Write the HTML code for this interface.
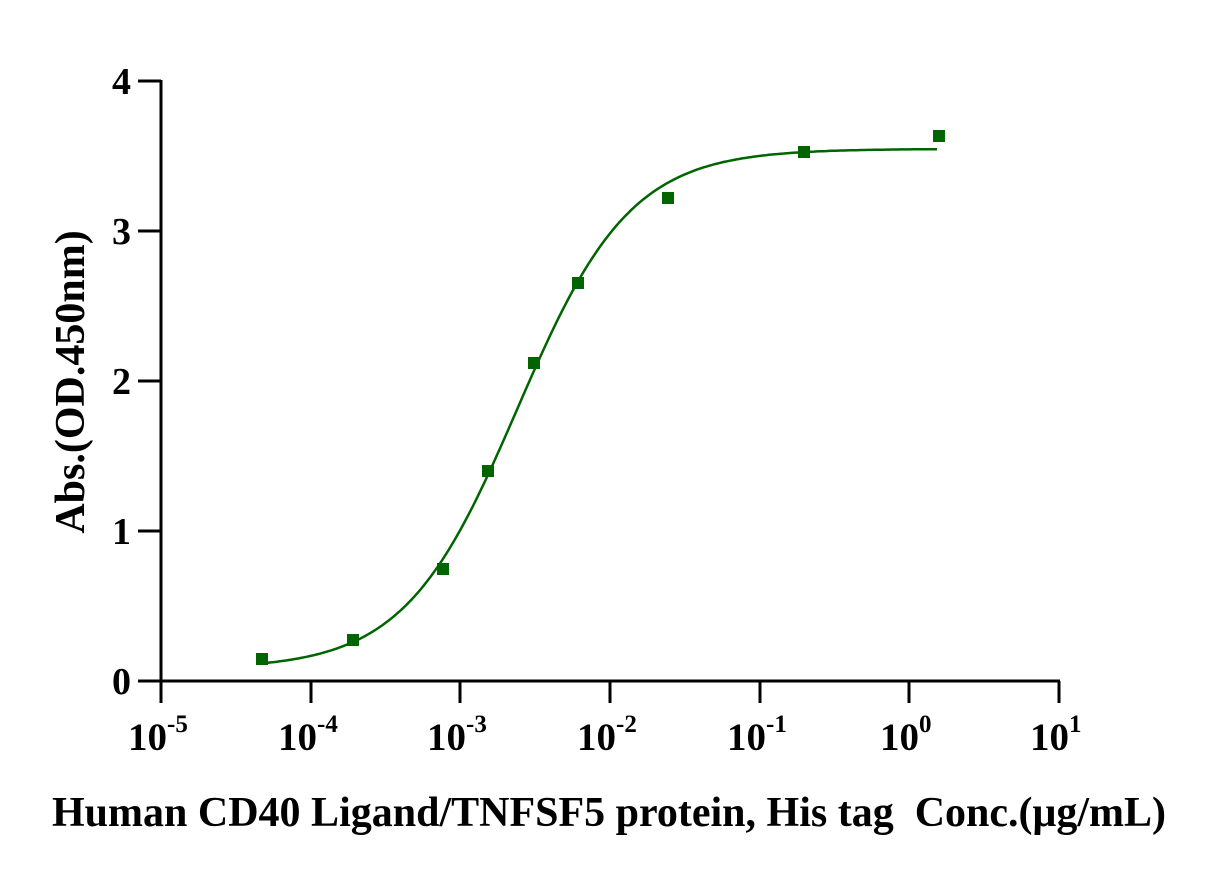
<!DOCTYPE html>
<html><head><meta charset="utf-8"><style>
html,body{margin:0;padding:0;background:#fff;width:1212px;height:876px;overflow:hidden}
svg text{font-family:"Liberation Serif",serif;font-weight:bold;fill:#000;white-space:pre}
</style></head><body>
<svg width="1212" height="876" viewBox="0 0 1212 876" xmlns="http://www.w3.org/2000/svg">
<g stroke="#000" stroke-width="3" fill="none">
<line x1="161" y1="80" x2="161" y2="682"/>
<line x1="138" y1="681" x2="1060" y2="681"/>
<line x1="138" y1="81" x2="161" y2="81"/>
<line x1="138" y1="231" x2="161" y2="231"/>
<line x1="138" y1="381" x2="161" y2="381"/>
<line x1="138" y1="531" x2="161" y2="531"/>
<line x1="161" y1="681" x2="161" y2="703"/>
<line x1="311" y1="681" x2="311" y2="703"/>
<line x1="460" y1="681" x2="460" y2="703"/>
<line x1="610" y1="681" x2="610" y2="703"/>
<line x1="760" y1="681" x2="760" y2="703"/>
<line x1="909" y1="681" x2="909" y2="703"/>
<line x1="1059" y1="681" x2="1059" y2="703"/>
</g>
<g font-size="38" text-anchor="end">
<text x="131" y="94">4</text><text x="131" y="244">3</text><text x="131" y="394">2</text><text x="131" y="544">1</text><text x="131" y="694">0</text>
</g>
<g font-size="39">
<text x="128" y="750">10<tspan font-size="25" dy="-18">-5</tspan></text>
<text x="278" y="750">10<tspan font-size="25" dy="-18">-4</tspan></text>
<text x="427" y="750">10<tspan font-size="25" dy="-18">-3</tspan></text>
<text x="577" y="750">10<tspan font-size="25" dy="-18">-2</tspan></text>
<text x="727" y="750">10<tspan font-size="25" dy="-18">-1</tspan></text>
<text x="880" y="750">10<tspan font-size="25" dy="-18">0</tspan></text>
<text x="1030" y="750">10<tspan font-size="25" dy="-18">1</tspan></text>
</g>
<text x="609" y="826" font-size="42" text-anchor="middle">Human CD40 Ligand/TNFSF5 protein, His tag&#160; Conc.(μg/mL)</text>
<text transform="translate(84,382) rotate(-90)" font-size="42" text-anchor="middle">Abs.(OD.450nm)</text>
<path id="c" fill="none" stroke="#006400" stroke-width="2.5"/>
<g fill="#006400">
<rect x="256" y="653" width="12" height="12"/>
<rect x="347" y="634" width="12" height="12"/>
<rect x="437" y="563" width="12" height="12"/>
<rect x="482" y="465" width="12" height="12"/>
<rect x="528" y="357" width="12" height="12"/>
<rect x="572" y="277" width="12" height="12"/>
<rect x="662" y="192" width="12" height="12"/>
<rect x="798" y="146" width="12" height="12"/>
<rect x="933" y="130" width="12" height="12"/>
</g>
</svg>
<script>
var d="";for(var px=262;px<=937;px+=3){var lx=-5+(px-161)/149.7;var y=0.08+3.47/(1+Math.pow(10,(-2.62-lx)*1.15));var py=681-y*149.9;d+=(d?"L":"M")+px+","+py.toFixed(1);}
document.getElementById("c").setAttribute("d",d);
</script>
</body></html>
